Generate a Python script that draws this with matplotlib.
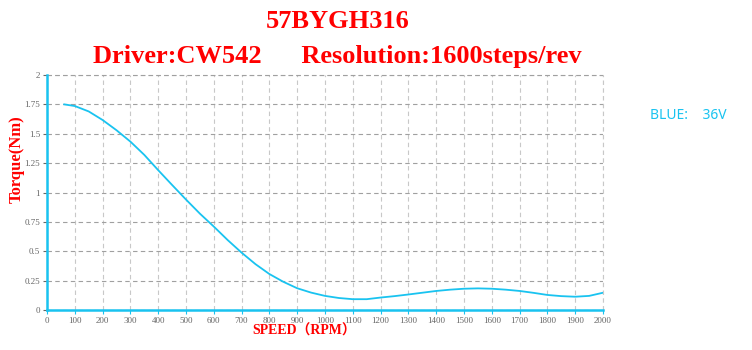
import numpy as np
import matplotlib
matplotlib.use("Agg")
import matplotlib.pyplot as plt

# torque curve
speed_rpm = [62, 100, 150, 200, 250, 300, 350, 400, 450, 500, 550, 600, 650, 700,
             750, 800, 850, 900, 950, 1000, 1050, 1100, 1150, 1200, 1250, 1300,
             1350, 1400, 1450, 1500, 1550, 1600, 1650, 1700, 1750, 1800, 1850,
             1900, 1950, 2000]
torque_nm = [1.75, 1.736, 1.69, 1.617, 1.53, 1.433, 1.32, 1.19, 1.064, 0.94, 0.82,
             0.71, 0.595, 0.488, 0.39, 0.306, 0.24, 0.185, 0.148, 0.12, 0.102,
             0.092, 0.092, 0.106, 0.118, 0.132, 0.147, 0.162, 0.173, 0.181, 0.184,
             0.181, 0.173, 0.162, 0.146, 0.128, 0.118, 0.113, 0.12, 0.147]

x_ticks = list(range(0, 2001, 100))
y_ticks = [0, 0.25, 0.5, 0.75, 1, 1.25, 1.5, 1.75, 2]
y_tick_labels = ["0", "0.25", "0.5", "0.75", "1", "1.25", "1.5", "1.75", "2"]

title_1 = "57BYGH316"
title_2 = "Driver:CW542      Resolution:1600steps/rev"
legend_text = "BLUE:    36V"

CYAN = "#19c3f0"
RED = "#ff0000"
SERIF = "Liberation Serif"

fig = plt.figure(figsize=(7.52, 3.5), dpi=100)
ax = fig.add_axes([0.0625, 0.1143, 0.7394, 0.6714])

ax.plot(speed_rpm, torque_nm, color=CYAN, lw=1.3, solid_joinstyle="round")

ax.set_xlim(0, 2000)
ax.set_ylim(0, 2)
ax.set_xticks(x_ticks)
ax.set_yticks(y_ticks)
ax.set_yticklabels(y_tick_labels)
ax.tick_params(axis="both", labelsize=6.5, colors="#666666", length=3, width=0.8, pad=2)
ax.tick_params(axis="x", color=CYAN)
for lab in ax.get_xticklabels() + ax.get_yticklabels():
    lab.set_family(SERIF)

ax.xaxis.grid(True, color="#c8c8c8", ls=(0, (4, 3)), lw=0.8)
ax.yaxis.grid(True, color="#a0a0a0", ls=(0, (4, 3)), lw=0.8)
ax.set_axisbelow(True)

for side in ["top", "right"]:
    ax.spines[side].set_visible(False)
for side in ["left", "bottom"]:
    ax.spines[side].set_color(CYAN)
    ax.spines[side].set_linewidth(1.8)
ax.axhline(2, color="#a0a0a0", ls=(0, (4, 3)), lw=0.8, clip_on=False)
ax.axvline(2000, color="#c8c8c8", ls=(0, (4, 3)), lw=0.8, clip_on=False)

ax.set_ylabel("Torque(Nm)", color=RED, family=SERIF, fontweight="bold", fontsize=12,
              va="center", ha="center")
ax.yaxis.set_label_coords(-0.054, 0.64)
ax.set_xlabel("SPEED\uff08RPM\uff09", color=RED, family=[SERIF, "Noto Sans CJK SC"],
              fontweight="bold", fontsize=10)
ax.xaxis.set_label_coords(0.462, -0.062)

fig.text(0.449, 0.94, title_1, color=RED, family=SERIF, fontweight="bold",
         fontsize=19, ha="center", va="center")
fig.text(0.449, 0.84, title_2, color=RED, family=SERIF, fontweight="bold",
         fontsize=19, ha="center", va="center")
fig.text(0.865, 0.67, legend_text, color=CYAN, family="Noto Sans", fontsize=10,
         ha="left", va="center")

fig.savefig("out.png", dpi=100)
